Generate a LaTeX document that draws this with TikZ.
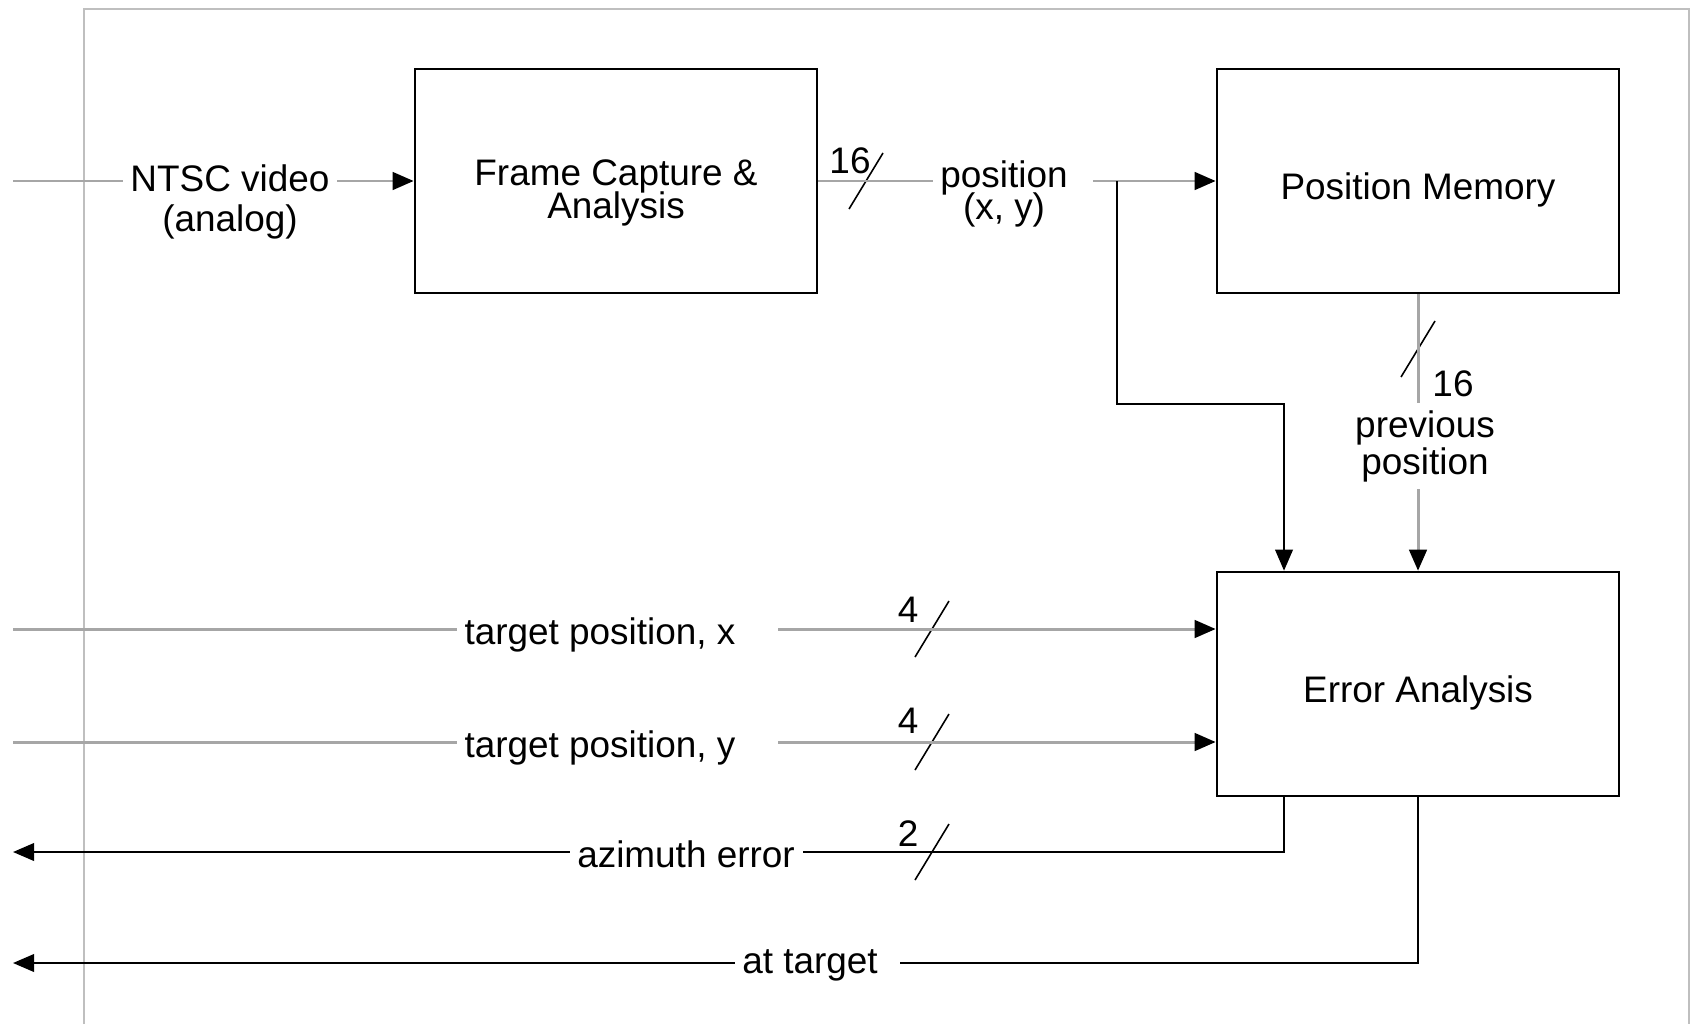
\documentclass[tikz,border=0pt]{standalone}
\usepackage{fontspec}
\setmainfont{Liberation Sans}
\usetikzlibrary{arrows.meta}
\setlength{\lineskiplimit}{-10pt}

\begin{document}
\begin{tikzpicture}[x=0.01cm,y=-0.01cm,font=\fontsize{10.5}{12}\selectfont,
  block/.style={draw,line width=0.7pt,minimum width=4.02cm,minimum height=2.24cm,inner sep=0pt},
  lbl/.style={inner sep=2pt,align=center},
  tight/.style={font=\fontsize{10.5}{9.3}\selectfont},
  sig/.style={line width=0.6pt},
  gsig/.style={line width=0.85pt,gray!70},
  tip/.style={-{Triangle[length=6pt,width=5pt,color=black]}},
  busslash/.style={line width=0.45pt}]
\useasboundingbox (0,0) rectangle (1698,1024);
\draw[gray!50,line width=0.45pt] (84,1024) -- (84,9) -- (1689,9) -- (1689,1024);
% blocks
\node[block] (fc) at (616,181) {};
\node[lbl,tight] (fctext) at (616,193) {Frame Capture \&\\Analysis};
\node[block] (pm) at (1418,181) {};
\node[lbl] (pmtext) at (1418,190) {Position Memory};
\node[block] (ea) at (1418,684) {};
\node[lbl] (eatext) at (1418,693) {Error Analysis};
% signal labels
\node[lbl,font=\fontsize{10.5}{11.4}\selectfont] (ntsc) at (230,202) {NTSC video\\(analog)};
\node[lbl,tight] (pos) at (1004,194) {position\\(x, y)};
\node[lbl,font=\fontsize{10.5}{10.5}\selectfont] (prev) at (1425,446) {previous\\position};
\node[lbl] (tpx) at (600,635) {target position, x};
\node[lbl] (tpy) at (600,748) {target position, y};
\node[lbl] (az) at (686,854) {azimuth error};
\node[lbl] (attarget) at (810,965) {at target};
% bus widths
\node (w16a) at (850,161) {16};
\node (w4a) at (908,610) {4};
\node (w4b) at (908,721) {4};
\node (w2) at (908,834) {2};
\node (w16b) at (1453,384) {16};
\foreach \x/\y in {866/181,932/629,932/742,932/852,1418/349}
  \draw[busslash] (\x-17,\y+28) -- (\x+17,\y-28);
% free ends and bends
\coordinate (in1) at (13,181);
\coordinate (in2) at (13,629);
\coordinate (in3) at (13,742);
\coordinate (out1) at (13,852);
\coordinate (out2) at (13,963);
\coordinate (jn) at (1117,181);
\coordinate (bend) at (1284,404);
% connectors
\draw[gsig] (in1) -- (in1 -| ntsc.west);
\draw[gsig,tip] (in1 -| ntsc.east) -- (fc.west);
\draw[gsig] (fc.east) -- (fc.east -| pos.west);
\draw[gsig,tip] (pos.east |- fc.east) ++(5pt,0) -- (pm.west);
\draw[sig,tip] (jn) |- (bend) -- (bend |- ea.north);
\draw[gsig] (pm.south) -- (pm.south |- prev.north);
\draw[gsig,tip] (pm.south |- prev.south) -- (ea.north);
\draw[gsig] (in2) -- (in2 -| tpx.west);
\draw[gsig,tip] (in2 -| tpx.east) ++(10pt,0) -- (in2 -| ea.west);
\draw[gsig] (in3) -- (in3 -| tpy.west);
\draw[gsig,tip] (in3 -| tpy.east) ++(10pt,0) -- (in3 -| ea.west);
\draw[sig] (bend |- ea.south) |- (out1 -| az.east);
\draw[sig,tip] (out1 -| az.west) -- (out1);
\draw[sig] (ea.south) |- ([xshift=4pt]out2 -| attarget.east);
\draw[sig,tip] (out2 -| attarget.west) -- (out2);
\end{tikzpicture}
\end{document}
